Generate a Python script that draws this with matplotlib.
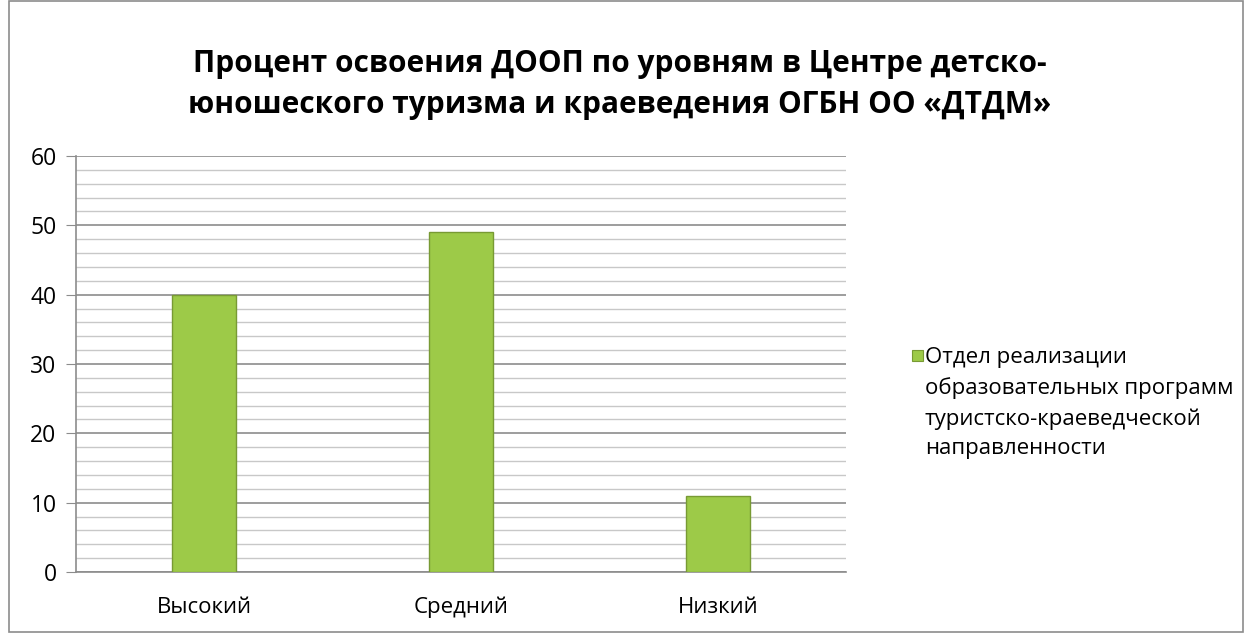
import matplotlib
matplotlib.use("Agg")
import matplotlib.pyplot as plt
from matplotlib.patches import Rectangle
import numpy as np

plt.rcParams['font.family'] = ['Open Sans', 'DejaVu Sans']

categories = ['Высокий', 'Средний', 'Низкий']
values = [40, 49, 11]
series_lines = ['Отдел реализации', 'образовательных программ',
                'туристско-краеведческой', 'направленности']
title = 'Процент освоения ДООП по уровням в Центре детско-\nюношеского туризма и краеведения ОГБН ОО «ДТДМ»'

fig = plt.figure(figsize=(12.44, 6.33), dpi=100)
fig.patches.append(Rectangle((0.007, 0.001), 0.992, 0.998, transform=fig.transFigure,
                             fill=False, edgecolor='#8c8c8c', linewidth=1.2))

ax = fig.add_axes([0.0611, 0.0964, 0.6190, 0.6572])
x = np.arange(len(categories))
bars = ax.bar(x, values, width=0.25, color='#9dca48', edgecolor='#789a34',
              linewidth=1.0, zorder=3)

ax.set_xlim(-0.5, 2.5)
ax.set_ylim(0, 60)
ax.set_yticks(range(0, 61, 10))
ax.set_yticks(range(0, 61, 2), minor=True)
ax.grid(axis='y', which='major', color='#8c8c8c', linewidth=1.2, zorder=0)
ax.grid(axis='y', which='minor', color='#c8c8c8', linewidth=1.0, zorder=0)
ax.set_xticks(x)
ax.set_xticklabels(categories, fontsize=16)
ax.tick_params(axis='y', which='major', labelsize=16.5, length=7, color='#8c8c8c', pad=7)
ax.tick_params(axis='y', which='minor', length=0)
ax.tick_params(axis='x', length=0, pad=18)
for s in ['top', 'right']:
    ax.spines[s].set_visible(False)
ax.spines['left'].set_color('#8c8c8c')
ax.spines['bottom'].set_color('#8c8c8c')
ax.spines['left'].set_linewidth(1.2)
ax.spines['bottom'].set_linewidth(1.2)

fig.text(0.4984, 0.866, title, ha='center', va='center', fontsize=21.5,
         fontweight='bold', linespacing=1.48)

# legend drawn by hand so the marker sits on the first line
fig.patches.append(Rectangle((0.7335, 0.4295), 0.0085, 0.0175, transform=fig.transFigure,
                             facecolor='#9dca48', edgecolor='#789a34', linewidth=0.8))
fig.text(0.7435, 0.4515, '\n'.join(series_lines), ha='left', va='top',
         fontsize=16, linespacing=1.54)

fig.savefig('out.png', dpi=100)
